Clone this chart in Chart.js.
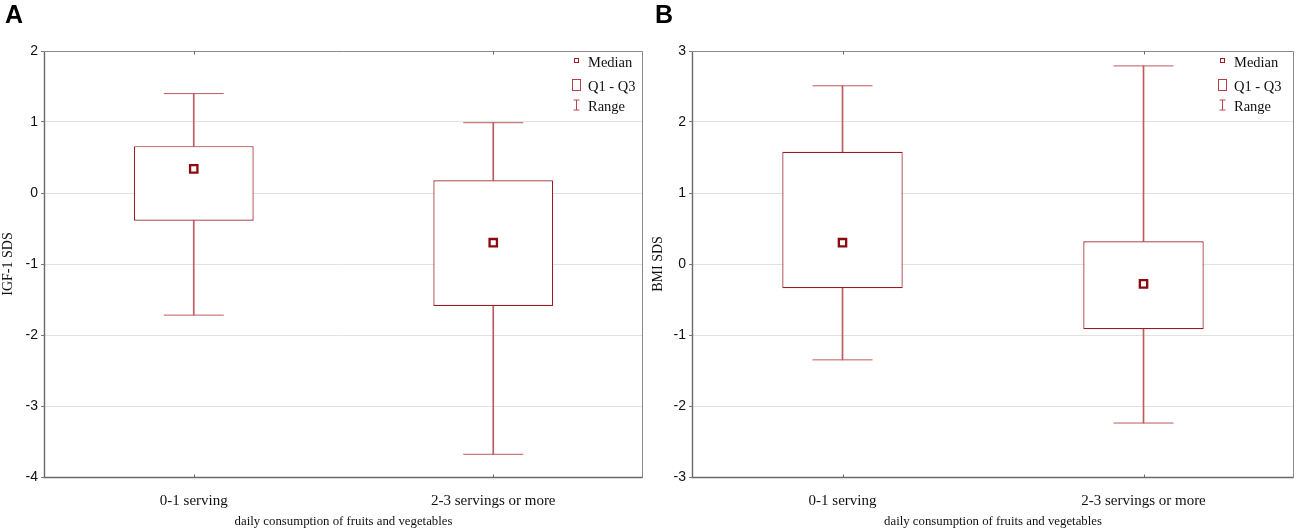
<!DOCTYPE html>
<html>
<head>
<meta charset="utf-8">
<script src="https://cdn.jsdelivr.net/npm/chart.js@4.4.1/dist/chart.umd.min.js"></script>
<style>
    body { margin: 0; background: #fff; }
    #wrap { position: relative; width: 1299px; height: 529px; }
    canvas { position: absolute; top: 0; }
    #chartA { left: 0; }
    #chartB { left: 650px; }
</style>
</head>
<body>
<div id="wrap">
    <canvas id="chartA" width="650" height="529"></canvas>
    <canvas id="chartB" width="649" height="529"></canvas>
</div>
<script>
// Categories and tick labels
const categories = ['0-1 serving', '2-3 servings or more'];
const xTitle = 'daily consumption of fruits and vegetables';

// Panel A: IGF-1 SDS
const igfMin = [-1.72, -3.68];
const igfQ1 = [-0.39, -1.59];
const igfMedian = [0.34, -0.70];
const igfQ3 = [0.66, 0.18];
const igfMax = [1.40, 0.99];

// Panel B: BMI SDS
const bmiMin = [-1.35, -2.24];
const bmiQ1 = [-0.34, -0.92];
const bmiMedian = [0.30, -0.28];
const bmiQ3 = [1.58, 0.32];
const bmiMax = [2.51, 2.79];

const legendLabels = ['Median', 'Q1 - Q3', 'Range'];

const BOX_COLOR = '#981c22';
const WHISKER_COLOR = '#bf5a60';
const MEDIAN_COLOR = '#8a0a10';
const SERIF = '"Liberation Serif", "Times New Roman", serif';
const SANS = '"Liberation Sans", Arial, sans-serif';

// Frame, edge ticks, panel letter and the little legend
const decorPlugin = {
    id: 'decor',
    afterDraw(chart, args, opts) {
        const ctx = chart.ctx;
        const a = chart.chartArea;
        const xs = chart.scales.x;
        const l = Math.round(a.left) + 0.5, r = Math.round(a.right) - 0.5;
        const t = Math.round(a.top) + 0.5, b = Math.round(a.bottom) + 0.5;
        ctx.save();
        ctx.lineWidth = 1;
        ctx.strokeStyle = '#8a8a8a';
        ctx.beginPath();
        ctx.moveTo(l, t); ctx.lineTo(r, t); ctx.lineTo(r, b);
        ctx.stroke();
        ctx.strokeStyle = '#6a6a6a';
        ctx.lineWidth = 1.4;
        ctx.beginPath();
        ctx.moveTo(l, t); ctx.lineTo(l, b); ctx.lineTo(r, b);
        ctx.stroke();
        ctx.lineWidth = 1;
        // small ticks at category centres
        categories.forEach((c, i) => {
            const x = Math.round(xs.getPixelForValue(i)) + 0.5;
            ctx.beginPath();
            ctx.moveTo(x, t); ctx.lineTo(x, t + 3);
            ctx.moveTo(x, b); ctx.lineTo(x, b - 3);
            ctx.stroke();
        });

        // panel letter
        ctx.fillStyle = '#000';
        ctx.font = 'bold 25px ' + SANS;
        ctx.textBaseline = 'top';
        ctx.textAlign = 'left';
        ctx.fillText(opts.letter, 5, 4);

        // legend
        const ix = a.right - opts.iconOffset;
        const tx = a.right - opts.textOffset;
        const ys = [a.top + 10, a.top + 34, a.top + 54];
        ctx.font = '14.5px ' + SERIF;
        ctx.textBaseline = 'middle';
        ctx.fillStyle = '#111';
        legendLabels.forEach((label, i) => ctx.fillText(label, tx, ys[i] + 2));

        ctx.strokeStyle = BOX_COLOR;
        ctx.strokeRect(Math.round(ix - 2) + 0.5, Math.round(ys[0] - 3) + 0.5, 4, 4);
        ctx.strokeStyle = '#b04046';
        ctx.strokeRect(Math.round(ix - 4) + 0.5, Math.round(ys[1] - 6) + 0.5, 8, 11);
        ctx.strokeStyle = '#c04048';
        const rx = Math.round(ix) + 0.5;
        ctx.beginPath();
        ctx.moveTo(rx, ys[2] - 5); ctx.lineTo(rx, ys[2] + 5);
        ctx.moveTo(rx - 3, ys[2] - 5); ctx.lineTo(rx + 3, ys[2] - 5);
        ctx.moveTo(rx - 3, ys[2] + 5); ctx.lineTo(rx + 3, ys[2] + 5);
        ctx.stroke();
        ctx.restore();
    }
};

function range(lo, hi) {
    return lo.map((v, i) => [v, hi[i]]);
}

function makeChart(canvasId, letter, yLabel, mins, q1, med, q3, maxs, yMin, yMax, axisWidth, rightPad, iconOffset, textOffset) {
    const ctx = document.getElementById(canvasId).getContext('2d');
    return new Chart(ctx, {
        data: {
            labels: categories,
            datasets: [{
                type: 'line',
                label: 'Median',
                data: med,
                showLine: false,
                pointStyle: 'rect',
                pointRadius: 5.2,
                pointBackgroundColor: '#ffffff',
                pointBorderColor: MEDIAN_COLOR,
                pointBorderWidth: 2.3,
                order: 0
            }, {
                type: 'bar',
                label: 'Q1 - Q3',
                data: range(q1, q3),
                backgroundColor: '#ffffff',
                borderColor: BOX_COLOR,
                borderWidth: 1.2,
                borderSkipped: false,
                barPercentage: 0.4,
                categoryPercentage: 1.0,
                grouped: false,
                order: 1
            }, {
                type: 'line',
                label: 'Max',
                data: maxs,
                showLine: false,
                pointStyle: 'line',
                pointRadius: 30,
                pointBorderColor: WHISKER_COLOR,
                pointBorderWidth: 1,
                order: 2
            }, {
                type: 'line',
                label: 'Min',
                data: mins,
                showLine: false,
                pointStyle: 'line',
                pointRadius: 30,
                pointBorderColor: WHISKER_COLOR,
                pointBorderWidth: 1,
                order: 2
            }, {
                type: 'bar',
                label: 'Upper whisker',
                data: range(q3, maxs),
                backgroundColor: WHISKER_COLOR,
                borderWidth: 0,
                barThickness: 1,
                grouped: false,
                order: 3
            }, {
                type: 'bar',
                label: 'Lower whisker',
                data: range(mins, q1),
                backgroundColor: WHISKER_COLOR,
                borderWidth: 0,
                barThickness: 1,
                grouped: false,
                order: 3
            }]
        },
        options: {
            responsive: false,
            animation: false,
            devicePixelRatio: 1,
            layout: {
                autoPadding: false,
                padding: { top: 51, right: rightPad, bottom: 0, left: 0 }
            },
            plugins: {
                legend: { display: false },
                tooltip: { enabled: false },
                decor: { letter: letter, iconOffset: iconOffset, textOffset: textOffset }
            },
            scales: {
                x: {
                    offset: true,
                    grid: { display: false },
                    border: { display: false },
                    ticks: {
                        color: '#111',
                        padding: 7,
                        font: { family: SERIF, size: 15 }
                    },
                    title: {
                        display: true,
                        text: xTitle,
                        color: '#111',
                        padding: { top: 3, bottom: 0 },
                        font: { family: SERIF, size: 12.8 }
                    },
                    afterFit: scale => { scale.height = 52; }
                },
                y: {
                    min: yMin,
                    max: yMax,
                    border: { display: false },
                    grid: {
                        color: '#e2e2e2',
                        tickColor: '#7a7a7a',
                        tickLength: 3
                    },
                    ticks: {
                        stepSize: 1,
                        color: '#111',
                        padding: 3,
                        font: { family: SANS, size: 14 }
                    },
                    title: {
                        display: true,
                        text: yLabel,
                        color: '#111',
                        padding: { top: 0, bottom: 0 },
                        font: { family: SERIF, size: 14 }
                    },
                    afterFit: scale => { scale.width = axisWidth; }
                }
            }
        },
        plugins: [decorPlugin]
    });
}

makeChart('chartA', 'A', 'IGF-1 SDS', igfMin, igfQ1, igfMedian, igfQ3, igfMax, -4, 2, 44, 7, 67, 55);
makeChart('chartB', 'B', 'BMI SDS', bmiMin, bmiQ1, bmiMedian, bmiQ3, bmiMax, -3, 3, 42, 5, 72, 60);
</script>
</body>
</html>
